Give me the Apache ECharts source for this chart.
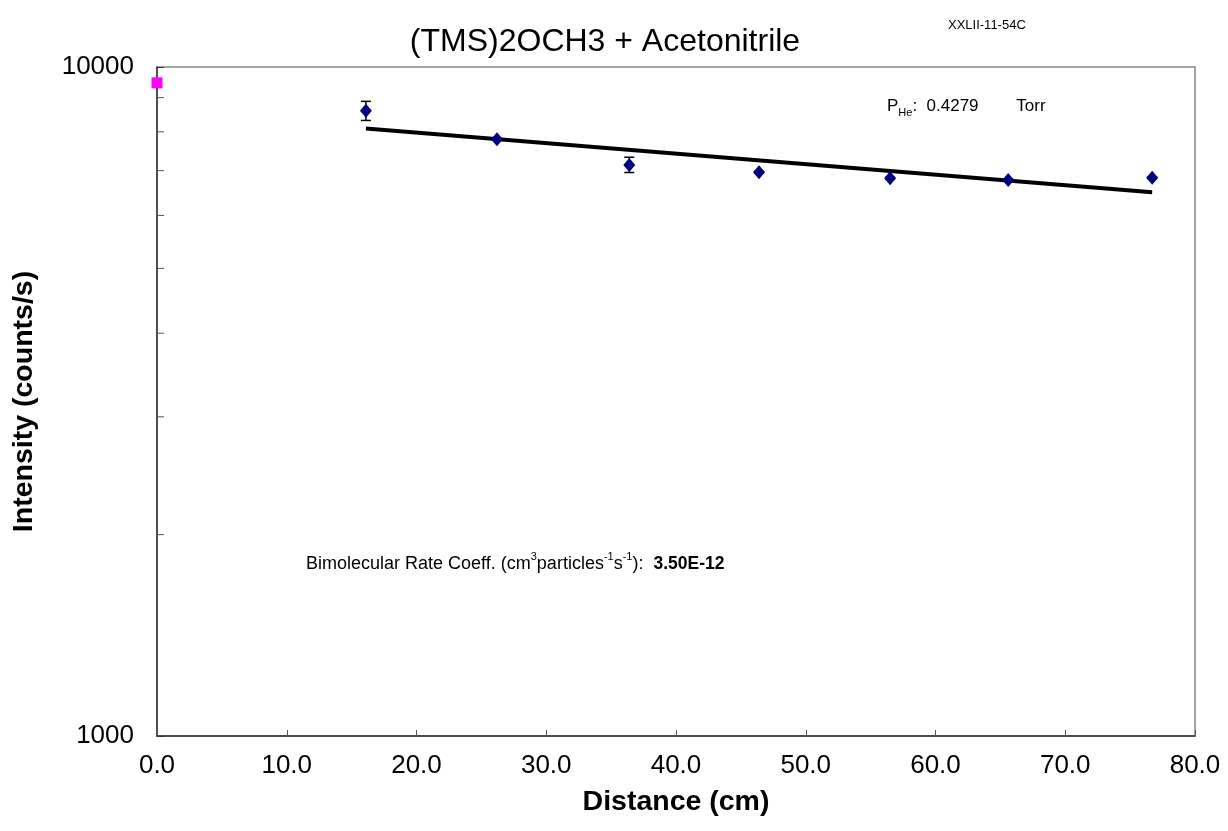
<!DOCTYPE html>
<html>
<head>
<meta charset="utf-8">
<style>
  html, body { margin: 0; padding: 0; background: #fff; }
  #chart { width: 1228px; height: 831px; }
</style>
<script src="https://cdn.jsdelivr.net/npm/echarts@6/dist/echarts.min.js"></script>
</head>
<body>
<div id="chart"></div>
<script>
// measured points (cm, counts/s)
const distance = [16.1, 26.2, 36.4, 46.4, 56.5, 65.6, 76.7];
const intensity = [8600, 7800, 7140, 6960, 6820, 6780, 6830];
const errPlus = [285, 20, 190, 20, 20, 20, 20];
const errMinus = [280, 20, 185, 20, 20, 20, 20];

// exponential fit, drawn between first and last distance
const fitX = [16.1, 76.7];
const fitY = [8090, 6500];

// initial signal at distance 0
const startX = [0];
const startY = [9470];

// minor ticks on the log axis
const minorTicks = [2000, 3000, 4000, 5000, 6000, 7000, 8000, 9000];

const xTicks = [0, 10, 20, 30, 40, 50, 60, 70, 80];

const FONT = '"Liberation Sans", Arial, sans-serif';

const chart = echarts.init(document.getElementById('chart'));

chart.setOption({
  backgroundColor: '#fff',
  animation: false,
  textStyle: { fontFamily: FONT },
  title: {
    text: '(TMS)2OCH3 + Acetonitrile',
    left: 600,
    top: 21,
    textAlign: 'center',
    textStyle: { fontFamily: FONT, fontSize: 32, fontWeight: 'normal', color: '#000' }
  },
  grid: {
    left: 157,
    right: 33,
    top: 67,
    bottom: 95,
    show: true,
    borderColor: '#888',
    borderWidth: 1.5
  },
  xAxis: {
    type: 'value',
    min: xTicks[0],
    max: xTicks[xTicks.length - 1],
    interval: 10,
    name: 'Distance (cm)',
    nameLocation: 'middle',
    nameGap: 52,
    nameTextStyle: { fontFamily: FONT, fontSize: 28.5, fontWeight: 'bold', color: '#000' },
    axisLine: { lineStyle: { color: '#333', width: 1.5 } },
    axisTick: { inside: true, length: 6, lineStyle: { color: '#555' } },
    axisLabel: {
      fontFamily: FONT, fontSize: 26, color: '#000', margin: 17,
      formatter: v => v.toFixed(1)
    },
    splitLine: { show: false }
  },
  yAxis: {
    type: 'log',
    logBase: 10,
    min: 1000,
    max: 10000,
    name: 'Intensity (counts/s)',
    nameLocation: 'middle',
    nameGap: 118,
    nameTextStyle: { fontFamily: FONT, fontSize: 28.5, fontWeight: 'bold', color: '#000' },
    axisLine: { lineStyle: { color: '#333', width: 1.5 } },
    axisTick: { inside: true, length: 7, lineStyle: { color: '#333' } },
    axisLabel: {
      fontFamily: FONT, fontSize: 26, color: '#000', margin: 23,
      formatter: v => String(Math.round(v))
    },
    splitLine: { show: false }
  },
  graphic: [
    {
      type: 'text', left: 948, top: 19,
      style: { text: 'XXLII-11-54C', fontFamily: FONT, fontSize: 13, fill: '#000' }
    },
    {
      type: 'text', left: 887, top: 98,
      style: {
        text: '{n|P}{s|He}{n|:  0.4279        Torr}',
        fontFamily: FONT,
        rich: {
          n: { fontFamily: FONT, fontSize: 17, fill: '#000', lineHeight: 22, verticalAlign: 'bottom' },
          s: { fontFamily: FONT, fontSize: 11, fill: '#000', lineHeight: 16, verticalAlign: 'bottom', padding: [0, 0, -3, 0] }
        }
      }
    },
    {
      type: 'text', left: 306, top: 551,
      style: {
        text: '{n|Bimolecular Rate Coeff. (cm}{u|3}{n|particles}{u|-1}{n|s}{u|-1}{n|):  }{b|3.50E-12}',
        fontFamily: FONT,
        rich: {
          n: { fontFamily: FONT, fontSize: 18, fill: '#000', lineHeight: 22, verticalAlign: 'bottom' },
          u: { fontFamily: FONT, fontSize: 11, fill: '#000', lineHeight: 20, verticalAlign: 'top' },
          b: { fontFamily: FONT, fontSize: 17.5, fontWeight: 'bold', fill: '#000', lineHeight: 22, verticalAlign: 'bottom' }
        }
      }
    }
  ],
  series: [
    {
      name: 'minor ticks',
      type: 'custom',
      silent: true,
      clip: false,
      encode: { x: 0, y: 1 },
      data: minorTicks.map(v => [xTicks[0], v]),
      renderItem: function (params, api) {
        const p = api.coord([api.value(0), api.value(1)]);
        return {
          type: 'line',
          shape: { x1: p[0], y1: p[1], x2: p[0] + 7, y2: p[1] },
          style: { stroke: '#555', lineWidth: 1 }
        };
      },
      z: 1
    },
    {
      name: 'fit',
      type: 'line',
      data: fitX.map((x, i) => [x, fitY[i]]),
      symbol: 'none',
      lineStyle: { color: '#000', width: 4 },
      z: 2
    },
    {
      name: 'error',
      type: 'custom',
      encode: { x: 0, y: [1, 2] },
      data: distance.map((x, i) => [x, intensity[i] - errMinus[i], intensity[i] + errPlus[i]]),
      renderItem: function (params, api) {
        const lo = api.coord([api.value(0), api.value(1)]);
        const hi = api.coord([api.value(0), api.value(2)]);
        const w = 5;
        const st = { stroke: '#000', lineWidth: 1.5 };
        return {
          type: 'group',
          children: [
            { type: 'line', shape: { x1: lo[0], y1: lo[1], x2: hi[0], y2: hi[1] }, style: st },
            { type: 'line', shape: { x1: hi[0] - w, y1: hi[1], x2: hi[0] + w, y2: hi[1] }, style: st },
            { type: 'line', shape: { x1: lo[0] - w, y1: lo[1], x2: lo[0] + w, y2: lo[1] }, style: st }
          ]
        };
      },
      z: 3
    },
    {
      name: 'intensity',
      type: 'scatter',
      data: distance.map((x, i) => [x, intensity[i]]),
      symbol: 'diamond',
      symbolSize: [12, 14],
      itemStyle: { color: '#000080', opacity: 1 },
      z: 4
    },
    {
      name: 'start',
      type: 'scatter',
      data: startX.map((x, i) => [x, startY[i]]),
      symbol: 'rect',
      symbolSize: 11,
      clip: false,
      itemStyle: { color: '#ff00ff', opacity: 1 },
      z: 5
    }
  ]
});
</script>
</body>
</html>
